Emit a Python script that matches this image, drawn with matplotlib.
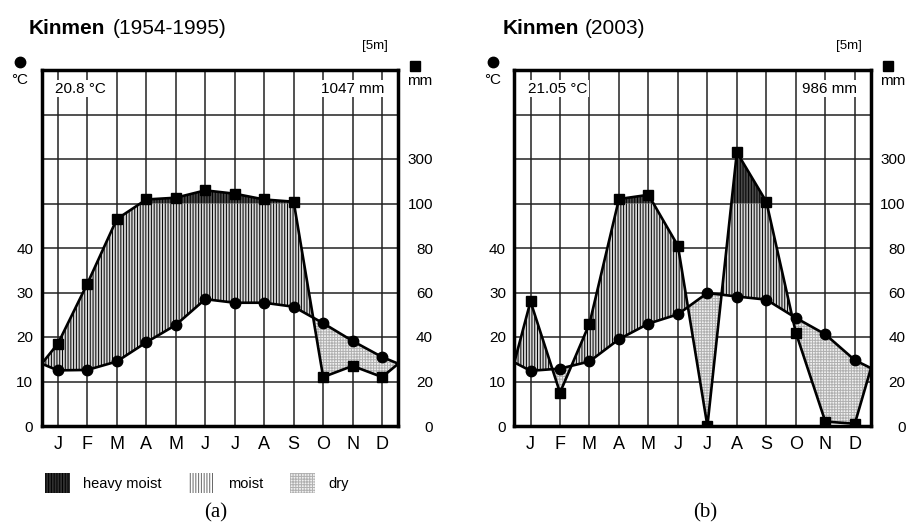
import numpy as np
import matplotlib.pyplot as plt
from matplotlib.patches import Rectangle
from matplotlib.lines import Line2D

plt.rcParams['font.family'] = ['Liberation Sans', 'DejaVu Sans']
plt.rcParams['hatch.linewidth'] = 0.7

months = ['J', 'F', 'M', 'A', 'M', 'J', 'J', 'A', 'S', 'O', 'N', 'D']

# (a) Kinmen 1954-1995
temp_a = [12.5, 12.6, 14.5, 18.8, 22.7, 28.5, 27.7, 27.7, 26.8, 23.1, 19.1, 15.5]
prec_a = [37, 64, 93, 118, 126, 159, 144, 118, 108, 22, 27, 22]
edge_temp_a = [14.0, 14.0]   # value of the curves at the left / right frame
edge_prec_a = [28, 28]

# (b) Kinmen 2003
temp_b = [12.4, 12.9, 14.5, 19.5, 23.0, 25.1, 29.9, 29.1, 28.4, 24.3, 20.6, 14.8]
prec_b = [56, 15, 46, 120, 139, 81, 0, 330, 108, 42, 2, 1]
edge_temp_b = [14.3, 13.0]
edge_prec_b = [28.6, 26]

temp_ticks = [0, 10, 20, 30, 40]
prec_ticks = [0, 20, 40, 60, 80, 100, 300]

HEAVY = dict(facecolor='#4a4a4a', edgecolor='black', hatch='||||||', linewidth=0)
MOIST = dict(facecolor='#d6d6d6', edgecolor='black', hatch='||||||', linewidth=0)
DRY = dict(facecolor='#f0f0f0', edgecolor='#b0b0b0', hatch='++++++', linewidth=0)


def scale_prec(p):
    p = np.asarray(p, dtype=float)
    return np.where(p <= 100, p / 2, 50 + (p - 100) / 20)


def draw_panel(ax, temp, prec, edge_t, edge_p, mean_txt, total_txt):
    xm = np.arange(len(months))
    x0, x1 = -0.55, len(months) - 0.45
    xf = np.concatenate([[x0], xm, [x1]])
    tf = np.concatenate([[edge_t[0]], temp, [edge_t[1]]])
    pf = scale_prec(np.concatenate([[edge_p[0]], prec, [edge_p[1]]]))

    for x in xm:
        ax.axvline(x, color='#222222', lw=1.1, zorder=1)
    for v in range(10, 80, 10):
        ax.axhline(v, color='#222222', lw=1.1, zorder=1)

    xs = np.linspace(x0, x1, 4000)
    ts = np.interp(xs, xf, tf)
    ps = np.interp(xs, xf, pf)
    ax.fill_between(xs, 50, ps, where=ps > 50, interpolate=True, zorder=2, **HEAVY)
    ax.fill_between(xs, ts, np.minimum(ps, 50), where=ps >= ts, interpolate=True,
                    zorder=2, **MOIST)
    ax.fill_between(xs, ps, ts, where=ts > ps, interpolate=True, zorder=2, **DRY)

    ax.plot(xf, tf, color='black', lw=1.9, zorder=3)
    ax.plot(xf, pf, color='black', lw=1.9, zorder=3)
    ax.plot(xm, temp, 'o', color='black', ms=7.5, zorder=4)
    ax.plot(xm, scale_prec(prec), 's', color='black', ms=7, zorder=4)

    ax.set_xlim(x0, x1)
    ax.set_ylim(0, 80)
    ax.set_xticks(xm)
    ax.set_xticklabels(months, fontsize=13)
    ax.set_yticks(temp_ticks)
    ax.set_yticklabels([str(t) for t in temp_ticks], fontsize=11)
    ax.tick_params(axis='x', length=0, pad=7)
    ax.tick_params(axis='y', length=0, pad=6)
    for s in ax.spines.values():
        s.set_linewidth(2.5)
        s.set_zorder(5)

    ax2 = ax.twinx()
    ax2.set_ylim(0, 80)
    ax2.set_yticks(scale_prec(prec_ticks))
    ax2.set_yticklabels([str(p) for p in prec_ticks], fontsize=11, ha='right')
    ax2.tick_params(axis='y', length=0, pad=25)
    for s in ax2.spines.values():
        s.set_visible(False)

    box = dict(facecolor='white', edgecolor='none', pad=1)
    ax.text(0.038, 0.947, mean_txt, transform=ax.transAxes, fontsize=11,
            ha='left', va='center', bbox=box, zorder=6)
    ax.text(0.96, 0.947, total_txt, transform=ax.transAxes, fontsize=11,
            ha='right', va='center', bbox=box, zorder=6)


fig = plt.figure(figsize=(9.1, 5.25), dpi=100)
H = 525.0
W = 910.0
ax_a = fig.add_axes([41.7 / W, 99 / H, 356.6 / W, 356 / H])
ax_b = fig.add_axes([514.3 / W, 99 / H, 356.7 / W, 356 / H])

draw_panel(ax_a, temp_a, prec_a, edge_temp_a, edge_prec_a, '20.8 °C', '1047 mm')
draw_panel(ax_b, temp_b, prec_b, edge_temp_b, edge_prec_b, '21.05 °C', '986 mm')

# headers
for xk, xp, period, x5, xdot, xsq in [(29, 113, '(1954-1995)', 388, 20, 415),
                                        (503, 585, '(2003)', 862, 493, 888)]:
    fig.text(xk / W, 1 - 29 / H, 'Kinmen', fontsize=15, fontweight='bold',
             ha='left', va='center')
    fig.text(xp / W, 1 - 29 / H, period, fontsize=15, ha='left', va='center')
    fig.text(x5 / W, 1 - 46 / H, '[5m]', fontsize=9.5, ha='right', va='center')
    fig.add_artist(Line2D([xdot / W], [1 - 62 / H], marker='o', color='black', ms=7.5))
    fig.text(xdot / W, 1 - 80 / H, '°C', fontsize=11, ha='center', va='center')
    fig.add_artist(Line2D([xsq / W], [1 - 66 / H], marker='s', color='black', ms=7))
    fig.text((xsq + 5) / W, 1 - 81 / H, 'mm', fontsize=11, ha='center', va='center')

# legend under panel (a)
legend_items = [('heavy moist', HEAVY, 45, 83), ('moist', MOIST, 189, 228),
                ('dry', DRY, 290, 328)]
for label, style, xr, xt in legend_items:
    st = dict(style)
    if label == 'heavy moist':
        st['facecolor'] = '#303030'
    if label == 'moist':
        st['facecolor'] = 'white'
        st['edgecolor'] = '#666666'
    fig.add_artist(Rectangle((xr / W, 1 - 493 / H), 25 / W, 20 / H,
                             transform=fig.transFigure, **st))
    fig.text(xt / W, 1 - 484 / H, label, fontsize=10.5, ha='left', va='center')

fig.text(216 / W, 1 - 513 / H, '(a)', fontsize=15, family='Liberation Serif',
         ha='center', va='center')
fig.text(705 / W, 1 - 513 / H, '(b)', fontsize=15, family='Liberation Serif',
         ha='center', va='center')

fig.savefig('out.png', dpi=100)
